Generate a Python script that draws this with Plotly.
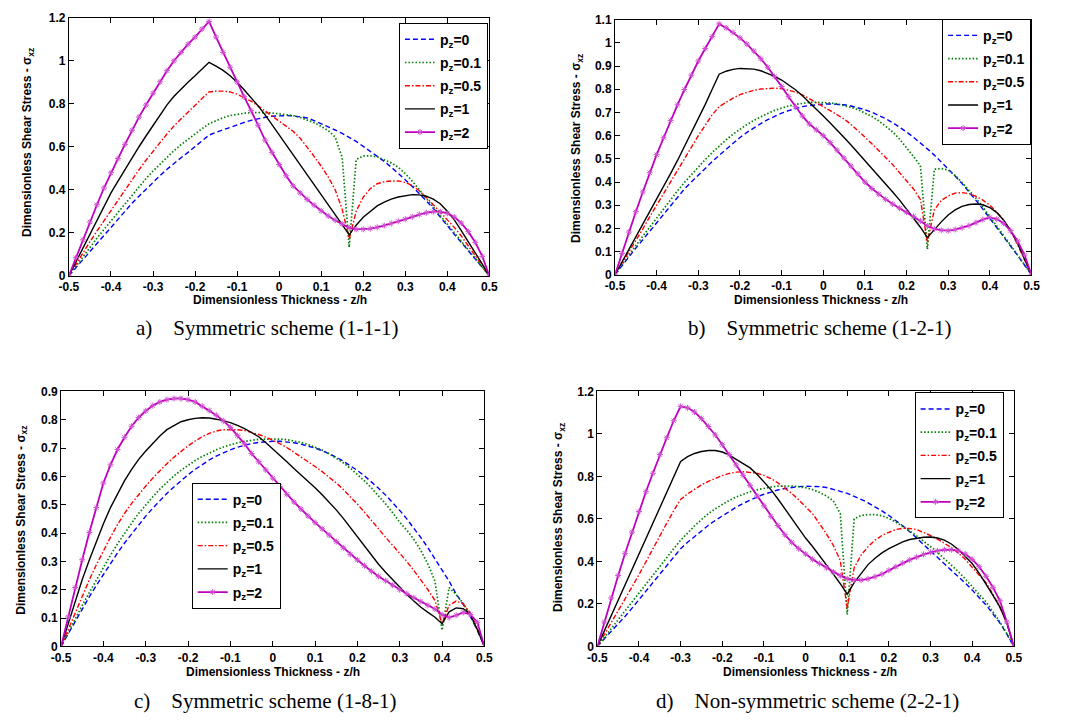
import plotly.graph_objects as go

# ---------------- data ----------------
Z = [-0.5, -0.4833, -0.4667, -0.45, -0.4333, -0.4167, -0.4, -0.3833, -0.3667, -0.35,
     -0.3333, -0.3167, -0.3, -0.2833, -0.2667, -0.25, -0.2333, -0.2167, -0.2, -0.1833,
     -0.1667, -0.15, -0.1333, -0.1167, -0.1, -0.0833, -0.0667, -0.05, -0.0333, -0.0167,
     0.0, 0.0167, 0.0333, 0.05, 0.0667, 0.0833, 0.1, 0.1167, 0.1333, 0.15,
     0.1667, 0.1833, 0.2, 0.2167, 0.2333, 0.25, 0.2667, 0.2833, 0.3, 0.3167,
     0.3333, 0.35, 0.3667, 0.3833, 0.4, 0.4167, 0.4333, 0.45, 0.4667, 0.4833, 0.5]

LEGEND_LABELS = ["p<sub>z</sub>=0", "p<sub>z</sub>=0.1", "p<sub>z</sub>=0.5",
                 "p<sub>z</sub>=1", "p<sub>z</sub>=2"]

# (a) Symmetric scheme (1-1-1)
a_pz0 = [0, 0.038, 0.076, 0.112, 0.15, 0.187, 0.224, 0.262, 0.3, 0.337,
         0.37, 0.403, 0.436, 0.466, 0.495, 0.523, 0.549, 0.574, 0.6, 0.628,
         0.654, 0.667, 0.679, 0.69, 0.702, 0.713, 0.723, 0.731, 0.737, 0.742,
         0.745, 0.745, 0.744, 0.74, 0.734, 0.722, 0.708, 0.693, 0.678, 0.662,
         0.645, 0.625, 0.602, 0.58, 0.557, 0.532, 0.505, 0.477, 0.447, 0.415,
         0.383, 0.349, 0.313, 0.272, 0.231, 0.193, 0.155, 0.117, 0.078, 0.04, 0]
a_pz01 = [0, 0.045, 0.09, 0.133, 0.175, 0.215, 0.255, 0.296, 0.337, 0.377,
          0.415, 0.452, 0.487, 0.52, 0.552, 0.582, 0.61, 0.636, 0.66, 0.684,
          0.707, 0.722, 0.735, 0.745, 0.751, 0.756, 0.759, 0.76, 0.759, 0.757,
          0.753, 0.75, 0.745, 0.736, 0.725, 0.712, 0.695, 0.675, 0.645, 0.55,
          0.132, 0.54, 0.558, 0.558, 0.553, 0.54, 0.525, 0.505, 0.475, 0.44,
          0.4, 0.36, 0.32, 0.28, 0.24, 0.2, 0.16, 0.12, 0.08, 0.04, 0]
a_pz05 = [0, 0.055, 0.108, 0.158, 0.208, 0.256, 0.302, 0.348, 0.4, 0.448,
          0.493, 0.537, 0.58, 0.622, 0.66, 0.697, 0.73, 0.762, 0.791, 0.825,
          0.855, 0.859, 0.859, 0.855, 0.845, 0.83, 0.812, 0.79, 0.767, 0.742,
          0.718, 0.697, 0.672, 0.64, 0.6, 0.555, 0.51, 0.46, 0.4, 0.31,
          0.17, 0.3, 0.365, 0.405, 0.428, 0.437, 0.441, 0.441, 0.434, 0.42,
          0.395, 0.365, 0.33, 0.295, 0.262, 0.225, 0.185, 0.14, 0.095, 0.048, 0]
a_pz1 = [0, 0.065, 0.128, 0.195, 0.26, 0.322, 0.385, 0.44, 0.495, 0.55,
         0.6, 0.65, 0.7, 0.75, 0.795, 0.835, 0.87, 0.9, 0.93, 0.962,
         0.993, 0.975, 0.955, 0.93, 0.9, 0.865, 0.828, 0.79, 0.748, 0.702,
         0.655, 0.61, 0.565, 0.52, 0.473, 0.427, 0.38, 0.333, 0.285, 0.238,
         0.19, 0.235, 0.272, 0.3, 0.325, 0.342, 0.356, 0.366, 0.373, 0.377,
         0.376, 0.37, 0.356, 0.335, 0.3, 0.26, 0.21, 0.16, 0.107, 0.054, 0]
a_pz2 = [0, 0.084, 0.167, 0.25, 0.33, 0.408, 0.479, 0.545, 0.611, 0.677,
         0.738, 0.794, 0.849, 0.902, 0.954, 1.0, 1.039, 1.077, 1.11, 1.148,
         1.183, 1.11, 1.039, 0.97, 0.902, 0.833, 0.768, 0.7, 0.631, 0.573,
         0.517, 0.465, 0.418, 0.385, 0.355, 0.328, 0.302, 0.278, 0.258, 0.24,
         0.223, 0.216, 0.216, 0.219, 0.225, 0.233, 0.243, 0.253, 0.263, 0.274,
         0.285, 0.293, 0.298, 0.298, 0.29, 0.273, 0.245, 0.205, 0.155, 0.09, 0]

# (b) Symmetric scheme (1-2-1)
b_pz0 = [0, 0.04, 0.078, 0.115, 0.151, 0.187, 0.223, 0.262, 0.3, 0.336,
         0.37, 0.4, 0.43, 0.46, 0.488, 0.515, 0.542, 0.567, 0.592, 0.614,
         0.634, 0.652, 0.669, 0.684, 0.697, 0.708, 0.717, 0.725, 0.73, 0.734,
         0.736, 0.737, 0.736, 0.733, 0.728, 0.721, 0.712, 0.701, 0.688, 0.673,
         0.656, 0.637, 0.616, 0.593, 0.569, 0.543, 0.516, 0.487, 0.457, 0.426,
         0.393, 0.358, 0.321, 0.283, 0.244, 0.205, 0.165, 0.124, 0.083, 0.042, 0]
b_pz01 = [0, 0.043, 0.085, 0.126, 0.166, 0.205, 0.243, 0.285, 0.325, 0.362,
          0.398, 0.432, 0.465, 0.497, 0.527, 0.556, 0.582, 0.606, 0.628, 0.648,
          0.666, 0.682, 0.696, 0.709, 0.72, 0.728, 0.735, 0.74, 0.743, 0.744,
          0.743, 0.741, 0.737, 0.731, 0.722, 0.712, 0.699, 0.683, 0.664, 0.642,
          0.616, 0.585, 0.55, 0.51, 0.47, 0.11, 0.455, 0.458, 0.452, 0.428,
          0.398, 0.366, 0.33, 0.292, 0.252, 0.212, 0.17, 0.127, 0.085, 0.042, 0]
b_pz05 = [0, 0.048, 0.097, 0.147, 0.198, 0.25, 0.3, 0.35, 0.4, 0.455,
          0.505, 0.555, 0.6, 0.645, 0.69, 0.725, 0.745, 0.762, 0.777, 0.788,
          0.796, 0.801, 0.804, 0.805, 0.803, 0.797, 0.788, 0.776, 0.76, 0.743,
          0.725, 0.708, 0.69, 0.672, 0.648, 0.622, 0.594, 0.565, 0.535, 0.505,
          0.475, 0.44, 0.405, 0.37, 0.325, 0.14, 0.28, 0.32, 0.34, 0.352,
          0.354, 0.35, 0.338, 0.322, 0.3, 0.27, 0.235, 0.19, 0.13, 0.066, 0]
b_pz1 = [0, 0.054, 0.108, 0.162, 0.216, 0.27, 0.325, 0.38, 0.436, 0.493,
         0.552, 0.612, 0.672, 0.735, 0.8, 0.865, 0.878, 0.886, 0.89, 0.89,
         0.887, 0.88, 0.869, 0.856, 0.84, 0.82, 0.798, 0.772, 0.744, 0.715,
         0.685, 0.655, 0.625, 0.592, 0.56, 0.527, 0.492, 0.458, 0.425, 0.392,
         0.357, 0.322, 0.283, 0.245, 0.205, 0.16, 0.195, 0.228, 0.258, 0.28,
         0.295, 0.303, 0.305, 0.302, 0.29, 0.268, 0.235, 0.19, 0.135, 0.07, 0]
b_pz2 = [0, 0.092, 0.184, 0.272, 0.357, 0.44, 0.518, 0.591, 0.665, 0.733,
         0.799, 0.861, 0.922, 0.976, 1.028, 1.082, 1.065, 1.045, 1.022, 0.995,
         0.965, 0.932, 0.895, 0.855, 0.812, 0.768, 0.725, 0.685, 0.65, 0.625,
         0.6, 0.57, 0.537, 0.503, 0.469, 0.435, 0.4, 0.372, 0.347, 0.325,
         0.305, 0.287, 0.27, 0.252, 0.232, 0.21, 0.198, 0.192, 0.19, 0.195,
         0.203, 0.212, 0.225, 0.238, 0.247, 0.24, 0.222, 0.19, 0.145, 0.085, 0]

# (c) Symmetric scheme (1-8-1)
c_pz0 = [0, 0.045, 0.09, 0.133, 0.175, 0.215, 0.255, 0.293, 0.33, 0.365,
         0.398, 0.43, 0.46, 0.488, 0.515, 0.54, 0.563, 0.585, 0.606, 0.625,
         0.642, 0.658, 0.672, 0.684, 0.694, 0.703, 0.71, 0.716, 0.72, 0.723,
         0.724, 0.724, 0.722, 0.719, 0.714, 0.708, 0.7, 0.691, 0.68, 0.668,
         0.654, 0.638, 0.621, 0.602, 0.581, 0.558, 0.534, 0.508, 0.48, 0.45,
         0.418, 0.384, 0.348, 0.31, 0.268, 0.23, 0.185, 0.148, 0.106, 0.057, 0]
c_pz01 = [0, 0.05, 0.1, 0.145, 0.19, 0.235, 0.28, 0.322, 0.362, 0.4,
          0.435, 0.47, 0.5, 0.528, 0.555, 0.58, 0.602, 0.622, 0.64, 0.656,
          0.67, 0.683, 0.694, 0.704, 0.712, 0.719, 0.724, 0.728, 0.731, 0.732,
          0.733, 0.732, 0.73, 0.726, 0.72, 0.713, 0.704, 0.693, 0.68, 0.665,
          0.648, 0.629, 0.607, 0.584, 0.559, 0.532, 0.503, 0.472, 0.438, 0.41,
          0.378, 0.338, 0.29, 0.23, 0.057, 0.208, 0.183, 0.152, 0.11, 0.058, 0]
c_pz05 = [0, 0.06, 0.12, 0.178, 0.235, 0.288, 0.338, 0.385, 0.43, 0.47,
          0.505, 0.537, 0.566, 0.594, 0.62, 0.645, 0.668, 0.689, 0.708, 0.725,
          0.74, 0.752, 0.76, 0.765, 0.766, 0.765, 0.762, 0.756, 0.748, 0.739,
          0.728, 0.716, 0.702, 0.686, 0.669, 0.652, 0.635, 0.617, 0.598, 0.577,
          0.554, 0.529, 0.502, 0.474, 0.444, 0.413, 0.385, 0.357, 0.33, 0.3,
          0.268, 0.236, 0.2, 0.162, 0.08, 0.145, 0.16, 0.15, 0.118, 0.064, 0]
c_pz1 = [0, 0.08, 0.16, 0.236, 0.305, 0.37, 0.433, 0.49, 0.54, 0.585,
         0.625, 0.66, 0.69, 0.718, 0.743, 0.765, 0.78, 0.793, 0.8, 0.805,
         0.807, 0.806, 0.802, 0.797, 0.79, 0.78, 0.769, 0.755, 0.74, 0.72,
         0.698, 0.675, 0.652, 0.628, 0.606, 0.583, 0.56, 0.535, 0.51, 0.482,
         0.452, 0.42, 0.385, 0.352, 0.32, 0.29, 0.262, 0.235, 0.208, 0.183,
         0.16, 0.138, 0.12, 0.103, 0.08, 0.122, 0.136, 0.133, 0.112, 0.06, 0]
c_pz2 = [0, 0.104, 0.208, 0.306, 0.402, 0.49, 0.577, 0.641, 0.695, 0.738,
         0.777, 0.808, 0.831, 0.85, 0.863, 0.871, 0.875, 0.875, 0.871, 0.863,
         0.848, 0.833, 0.816, 0.796, 0.773, 0.744, 0.715, 0.681, 0.652, 0.623,
         0.594, 0.565, 0.537, 0.51, 0.485, 0.46, 0.437, 0.415, 0.393, 0.37,
         0.348, 0.325, 0.305, 0.285, 0.265, 0.247, 0.232, 0.216, 0.2, 0.186,
         0.172, 0.158, 0.145, 0.132, 0.112, 0.102, 0.11, 0.12, 0.113, 0.085, 0]

# (d) Non-symmetric scheme (2-2-1)
d_pz0 = [0, 0.035, 0.07, 0.105, 0.142, 0.18, 0.218, 0.26, 0.3, 0.34,
         0.38, 0.42, 0.46, 0.49, 0.518, 0.545, 0.57, 0.593, 0.615, 0.636,
         0.655, 0.673, 0.689, 0.703, 0.716, 0.727, 0.736, 0.743, 0.749, 0.752,
         0.754, 0.754, 0.752, 0.748, 0.74, 0.73, 0.72, 0.707, 0.692, 0.676,
         0.658, 0.638, 0.616, 0.593, 0.568, 0.54, 0.51, 0.479, 0.446, 0.418,
         0.39, 0.36, 0.33, 0.298, 0.265, 0.23, 0.195, 0.153, 0.11, 0.058, 0]
d_pz01 = [0, 0.042, 0.084, 0.126, 0.168, 0.21, 0.252, 0.295, 0.338, 0.38,
          0.42, 0.46, 0.5, 0.535, 0.567, 0.597, 0.625, 0.648, 0.668, 0.687,
          0.703, 0.716, 0.728, 0.737, 0.745, 0.75, 0.754, 0.755, 0.755, 0.752,
          0.747, 0.738, 0.725, 0.708, 0.685, 0.625, 0.15, 0.6, 0.616, 0.62,
          0.62, 0.615, 0.602, 0.585, 0.565, 0.543, 0.52, 0.497, 0.47, 0.443,
          0.413, 0.385, 0.352, 0.318, 0.28, 0.245, 0.21, 0.165, 0.115, 0.06, 0]
d_pz05 = [0, 0.055, 0.11, 0.165, 0.222, 0.28, 0.338, 0.4, 0.46, 0.52,
          0.58, 0.638, 0.692, 0.718, 0.74, 0.76, 0.777, 0.792, 0.804, 0.814,
          0.82, 0.822, 0.82, 0.815, 0.805, 0.79, 0.77, 0.745, 0.72, 0.69,
          0.655, 0.625, 0.578, 0.53, 0.475, 0.405, 0.18, 0.37, 0.43, 0.469,
          0.5, 0.522, 0.537, 0.55, 0.556, 0.555, 0.55, 0.537, 0.522, 0.505,
          0.485, 0.465, 0.44, 0.41, 0.372, 0.335, 0.3, 0.245, 0.185, 0.11, 0]
d_pz1 = [0, 0.073, 0.146, 0.22, 0.293, 0.366, 0.44, 0.512, 0.584, 0.655,
         0.727, 0.798, 0.87, 0.893, 0.908, 0.917, 0.922, 0.922, 0.915, 0.9,
         0.88, 0.86, 0.84, 0.81, 0.775, 0.738, 0.695, 0.648, 0.6, 0.555,
         0.51, 0.47, 0.428, 0.385, 0.34, 0.295, 0.246, 0.3, 0.345, 0.385,
         0.415, 0.44, 0.46, 0.478, 0.492, 0.503, 0.51, 0.514, 0.515, 0.51,
         0.5, 0.482, 0.456, 0.425, 0.39, 0.345, 0.295, 0.24, 0.185, 0.11, 0]
d_pz2 = [0, 0.115, 0.228, 0.334, 0.438, 0.538, 0.635, 0.728, 0.815, 0.903,
         0.982, 1.062, 1.13, 1.123, 1.103, 1.072, 1.035, 0.995, 0.949, 0.903,
         0.854, 0.805, 0.758, 0.708, 0.662, 0.612, 0.569, 0.526, 0.49, 0.46,
         0.435, 0.41, 0.39, 0.37, 0.35, 0.333, 0.318, 0.312, 0.312, 0.318,
         0.328, 0.34, 0.358, 0.375, 0.392, 0.407, 0.42, 0.433, 0.443, 0.45,
         0.455, 0.455, 0.45, 0.435, 0.41, 0.375, 0.33, 0.278, 0.215, 0.115, 0]

X_TICKS = [-0.5, -0.4, -0.3, -0.2, -0.1, 0, 0.1, 0.2, 0.3, 0.4, 0.5]
X_TICKTEXT = ["-0.5", "-0.4", "-0.3", "-0.2", "-0.1", "0", "0.1", "0.2", "0.3", "0.4", "0.5"]
Y_TICKS_12 = [0, 0.2, 0.4, 0.6, 0.8, 1.0, 1.2]
Y_TEXT_12 = ["0", "0.2", "0.4", "0.6", "0.8", "1", "1.2"]
Y_TICKS_11 = [0, 0.1, 0.2, 0.3, 0.4, 0.5, 0.6, 0.7, 0.8, 0.9, 1.0, 1.1]
Y_TEXT_11 = ["0", "0.1", "0.2", "0.3", "0.4", "0.5", "0.6", "0.7", "0.8", "0.9", "1", "1.1"]
Y_TICKS_09 = [0, 0.1, 0.2, 0.3, 0.4, 0.5, 0.6, 0.7, 0.8, 0.9]
Y_TEXT_09 = ["0", "0.1", "0.2", "0.3", "0.4", "0.5", "0.6", "0.7", "0.8", "0.9"]

CAPTIONS = ["a)\u00a0\u00a0\u00a0\u00a0Symmetric scheme (1-1-1)",
            "b)\u00a0\u00a0\u00a0\u00a0Symmetric scheme (1-2-1)",
            "c)\u00a0\u00a0\u00a0\u00a0Symmetric scheme (1-8-1)",
            "d)\u00a0\u00a0\u00a0\u00a0Non-symmetric scheme (2-2-1)"]
X_TITLE = "Dimensionless Thickness - z/h"
Y_TITLE = "Dimensionless Shear Stress - \u03c3<sub>xz</sub>"

# ---------------- styling / layout ----------------
W, H = 1067, 725
SANS = "Arial, Liberation Sans, sans-serif"
SERIF = "Times New Roman, Liberation Serif, serif"

STYLES = [
    dict(line=dict(color="#0000ff", dash="5px,3px", width=1.4), mode="lines"),
    dict(line=dict(color="#008000", dash="1.5px,2px", width=1.7), mode="lines"),
    dict(line=dict(color="#ff0000", dash="5px,2px,1.5px,2px", width=1.4), mode="lines"),
    dict(line=dict(color="#000000", width=1.4), mode="lines"),
    dict(line=dict(color="#c000c0", width=1.8), mode="lines+markers",
         marker=dict(symbol="asterisk-open", size=5, color="#d050d0",
                     line=dict(color="#d050d0", width=1))),
]

# panel boxes in pixels: (left, right, top, bottom)
panels = [
    dict(key="", series=[a_pz0, a_pz01, a_pz05, a_pz1, a_pz2], box=(60, 488, 11, 274),
         yr=[0, 1.2], yt=(Y_TICKS_12, Y_TEXT_12), leg=(396, 16),
         ytitle=(19, 138), xtitle=(275, 299), cap=(262, 327)),
    dict(key="2", series=[b_pz0, b_pz01, b_pz05, b_pz1, b_pz2], box=(616, 1040, 13, 273),
         yr=[0, 1.1], yt=(Y_TICKS_11, Y_TEXT_11), leg=(949, 12),
         ytitle=(578, 144), xtitle=(826, 299), cap=(825, 327)),
    dict(key="3", series=[c_pz0, c_pz01, c_pz05, c_pz1, c_pz2], box=(52, 483, 392, 652),
         yr=[0, 0.9], yt=(Y_TICKS_09, Y_TEXT_09), leg=(185, 485),
         ytitle=(12, 523), xtitle=(268, 678), cap=(260, 708)),
    dict(key="4", series=[d_pz0, d_pz01, d_pz05, d_pz1, d_pz2], box=(598, 1022, 392, 652),
         yr=[0, 1.2], yt=(Y_TICKS_12, Y_TEXT_12), leg=(921, 393),
         ytitle=(559, 521), xtitle=(815, 678), cap=(812, 708)),
]

fig = go.Figure()
layout = dict(width=W, height=H, margin=dict(l=0, r=0, t=0, b=0),
              paper_bgcolor="white", plot_bgcolor="white", showlegend=True,
              annotations=[])

tickfont = dict(family=SANS, size=12, color="black", weight="bold")
for idx, p in enumerate(panels):
    k = p["key"]
    xa, ya = "x" + k, "y" + k
    legname = "legend" + k
    for j, (lab, vals, st) in enumerate(zip(LEGEND_LABELS, p["series"], STYLES)):
        fig.add_trace(go.Scatter(x=Z, y=vals, name=lab, xaxis=xa, yaxis=ya,
                                 legend=legname, legendgroup=f"g{idx}_{j}", **st))
    l, r, t, b = p["box"]
    common = dict(ticks="inside", ticklen=5, tickwidth=1, tickcolor="black",
                  showline=True, linecolor="black", linewidth=1, mirror="allticks",
                  showgrid=False, zeroline=False, tickfont=tickfont)
    layout["xaxis" + k] = dict(domain=[l / W, r / W], range=[-0.5, 0.5], anchor=ya,
                               tickvals=X_TICKS, ticktext=X_TICKTEXT, **common)
    layout["yaxis" + k] = dict(domain=[1 - b / H, 1 - t / H], range=p["yr"], anchor=xa,
                               tickvals=p["yt"][0], ticktext=p["yt"][1], **common)
    lx, ly = p["leg"]
    layout[legname] = dict(x=lx / W, y=1 - ly / H, xanchor="left", yanchor="top",
                           xref="paper", yref="paper",
                           bgcolor="white", bordercolor="black", borderwidth=1,
                           font=dict(family=SANS, size=14, color="black", weight="bold"),
                           tracegroupgap=2)
    # axis titles and caption
    tx, ty = p["ytitle"]
    layout["annotations"].append(dict(x=tx / W, y=1 - ty / H, xref="paper", yref="paper",
                                      text=Y_TITLE, textangle=-90, showarrow=False,
                                      xanchor="center", yanchor="middle",
                                      font=dict(family=SANS, size=12, color="black", weight="bold")))
    tx, ty = p["xtitle"]
    layout["annotations"].append(dict(x=tx / W, y=1 - ty / H, xref="paper", yref="paper",
                                      text=X_TITLE, showarrow=False,
                                      xanchor="center", yanchor="middle",
                                      font=dict(family=SANS, size=12, color="black", weight="bold")))
    cx, cy = p["cap"]
    layout["annotations"].append(dict(x=cx / W, y=1 - cy / H, xref="paper", yref="paper",
                                      text=CAPTIONS[idx], showarrow=False,
                                      xanchor="center", yanchor="middle",
                                      font=dict(family=SERIF, size=21, color="black")))

fig.update_layout(**layout)
fig.write_html("out.html", config={"displayModeBar": False},
               post_script="document.body.style.margin='0';")
